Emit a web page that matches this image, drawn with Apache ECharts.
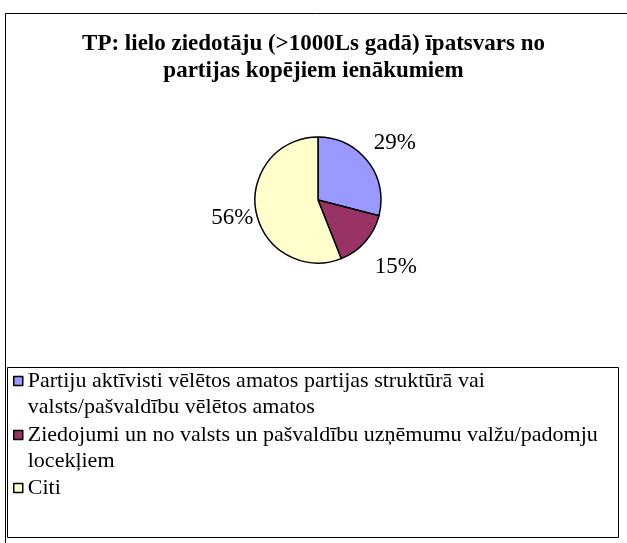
<!DOCTYPE html>
<html><head><meta charset="utf-8">
<script src="https://cdn.jsdelivr.net/npm/echarts@6/dist/echarts.min.js"></script>
<style>html,body{margin:0;padding:0;background:#fff}#c{width:627px;height:543px}</style>
</head><body><div id="c"></div>
<script>
const titleLines = ['TP: lielo ziedotāju (>1000Ls gadā) īpatsvars no', 'partijas kopējiem ienākumiem'];
const categories = [
  'Partiju aktīvisti vēlētos amatos partijas struktūrā vai valsts/pašvaldību vēlētos amatos',
  'Ziedojumi un no valsts un pašvaldību uzņēmumu valžu/padomju locekļiem',
  'Citi'
];
const legendLines = [
  ['Partiju aktīvisti vēlētos amatos partijas struktūrā vai', 'valsts/pašvaldību vēlētos amatos'],
  ['Ziedojumi un no valsts un pašvaldību uzņēmumu valžu/padomju', 'locekļiem'],
  ['Citi']
];
const values = [29, 15, 56];
const colors = ['#9999FF', '#993366', '#FFFFCC'];

const chart = echarts.init(document.getElementById('c'), null, {renderer: 'canvas'});
const LH = 26.7;
const firstLineY = [381, 435, 488];
const legends = categories.map((name, i) => {
  const n = legendLines[i].length;
  const lines = [];
  for (let k = 0; k < n - 1; k++) lines.push(' ');
  return {
    orient: 'vertical', left: 13, top: firstLineY[i] - (n - 1) * LH - LH / 2,
    padding: 0, itemWidth: 9, itemHeight: 9, itemGap: 0,
    icon: 'rect', selectedMode: false,
    data: [{name: name, itemStyle: {borderColor: '#000', borderWidth: 1.5}}],
    formatter: () => lines.concat(legendLines[i]).join('\n'),
    textStyle: {fontFamily: 'Liberation Serif', fontSize: 22, color: '#000', lineHeight: LH}
  };
});
const labelShift = [[-10, -10], [-6, 16], [16, 4]];
chart.setOption({
  animation: false,
  title: {
    text: titleLines.join('\n'), left: 'center', top: 26,
    textStyle: {fontFamily: 'Liberation Serif', fontWeight: 'bold', fontSize: 23, color: '#000', lineHeight: 27}
  },
  legend: legends,
  graphic: [
    {type: 'rect', shape: {x: 5.5, y: 13.5, width: 640, height: 540}, style: {fill: 'none', stroke: '#000', lineWidth: 1}, silent: true},
    {type: 'rect', shape: {x: 7.5, y: 367.5, width: 611, height: 170}, style: {fill: 'none', stroke: '#000', lineWidth: 1}, silent: true}
  ],
  series: [{
    type: 'pie', center: [318, 200], radius: 63, startAngle: 90, clockwise: true,
    data: categories.map((c, i) => ({name: c, value: values[i], itemStyle: {color: colors[i]}})),
    itemStyle: {borderColor: '#000', borderWidth: 1.5},
    label: {show: true, position: 'outside', formatter: '{d}%', fontFamily: 'Liberation Serif', fontSize: 23, color: '#000'},
    labelLine: {show: false, length: 14, length2: 0},
    labelLayout: (p) => ({dx: labelShift[p.dataIndex][0], dy: labelShift[p.dataIndex][1]}),
    emphasis: {disabled: true}
  }]
});
</script></body></html>
